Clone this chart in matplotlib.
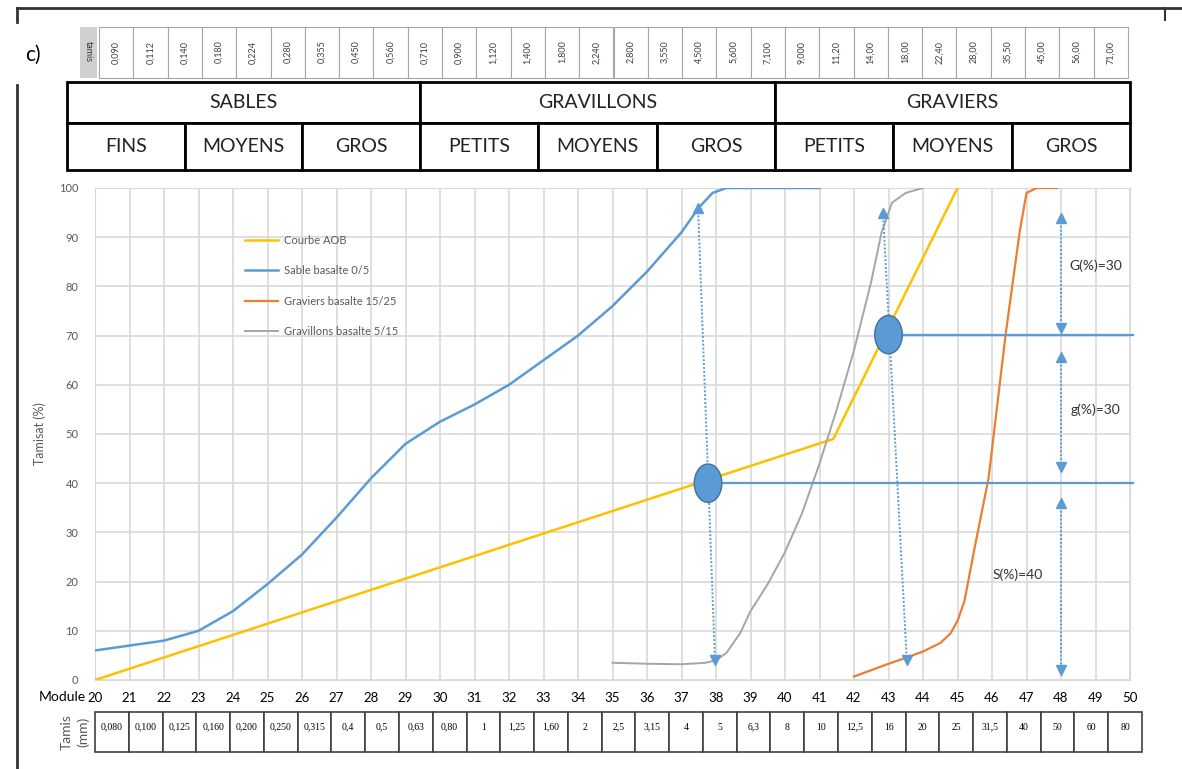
import numpy as np
import matplotlib.pyplot as plt
from matplotlib.patches import Ellipse, Rectangle

plt.rcParams['font.family'] = ['Lato', 'DejaVu Sans']

# --- data ---
module = list(range(20, 51))
tamis_mm = ['0,080', '0,100', '0,125', '0,160', '0,200', '0,250', '0,315', '0,4', '0,5', '0,63',
            '0,80', '1', '1,25', '1,60', '2', '2,5', '3,15', '4', '5', '6,3', '8', '10', '12,5',
            '16', '20', '25', '31,5', '40', '50', '60', '80']
tamis_top = ['0,090', '0,112', '0,140', '0,180', '0,224', '0,280', '0,355', '0,450', '0,560',
             '0,710', '0,900', '1,120', '1,400', '1,800', '2,240', '2,800', '3,550', '4,500',
             '5,600', '7,100', '9,000', '11,20', '14,00', '18,00', '22,40', '28,00', '35,50',
             '45,00', '56,00', '71,00']

aob_x = [20, 41.4, 45]
aob_y = [0, 49, 100]

sable_x = [20, 21, 22, 23, 24, 25, 26, 27, 28, 29, 30, 31, 32, 33, 34, 35, 36, 37, 37.5, 37.9, 38.3, 39, 40, 41]
sable_y = [6, 7, 8, 10, 14, 19.5, 25.5, 33, 41, 48, 52.5, 56, 60, 65, 70, 76, 83, 91, 96, 99, 100, 100, 100, 100]

gravier_x = [42, 42.5, 43, 43.5, 44, 44.5, 44.8, 45.0, 45.2, 45.5, 45.9, 46.4, 46.8, 47.0, 47.3, 47.9]
gravier_y = [0.7, 2, 3.3, 4.5, 5.8, 7.5, 9.5, 12, 16, 27, 41, 70.5, 91, 99, 100, 100]

gravillon_x = [35, 36, 37, 37.7, 38, 38.3, 38.7, 39, 39.5, 40, 40.5, 41, 41.5, 42, 42.5, 42.8, 43.1, 43.5, 44]
gravillon_y = [3.5, 3.3, 3.2, 3.5, 4, 5.5, 9.5, 14, 19.5, 26, 34, 44, 55, 67, 81, 91, 97, 99, 100]

points_x = [37.77, 43.0]
points_y = [40, 70.2]

header1 = ['SABLES', 'GRAVILLONS', 'GRAVIERS']
header2 = ['FINS', 'MOYENS', 'GROS', 'PETITS', 'MOYENS', 'GROS', 'PETITS', 'MOYENS', 'GROS']

W, H = 1182, 769
fig = plt.figure(figsize=(W / 100, H / 100), dpi=100)

# overlay in pixel coordinates for frame and tables
ov = fig.add_axes([0, 0, 1, 1])
ov.set_xlim(0, W)
ov.set_ylim(H, 0)
ov.axis('off')

ax = fig.add_axes([95 / W, 1 - 680 / H, (1130 - 95) / W, (680 - 188) / H])

c_yel = '#FFC000'
c_blue = '#5B9BD5'
c_or = '#ED7D31'
c_gray = '#A5A5A5'

ax.plot(aob_x, aob_y, color=c_yel, lw=1.8, label='Courbe AOB', zorder=3)
ax.plot(sable_x, sable_y, color=c_blue, lw=1.8, label='Sable basalte 0/5', zorder=3)
ax.plot(gravier_x, gravier_y, color=c_or, lw=1.6, label='Graviers basalte 15/25', zorder=3)
ax.plot(gravillon_x, gravillon_y, color=c_gray, lw=1.4, label='Gravillons basalte 5/15', zorder=3)

# horizontal lines from the points
for px, py in zip(points_x, points_y):
    ax.plot([px, 50.1], [py, py], color=c_blue, lw=1.6, zorder=4, clip_on=False)
    ax.add_patch(Ellipse((px, py), 0.8, 7.8, facecolor=c_blue, edgecolor='#41719C', lw=1, zorder=6))

# dotted double arrows
arrows = [((37.48, 96), (37.97, 4)), ((42.84, 95), (43.53, 4)),
          ((48, 94), (48, 71.5)), ((48, 65.6), (48, 43.3)), ((48, 36), (48, 2))]
for (x0, y0), (x1, y1) in arrows:
    ax.plot([x0, x1], [y0, y1], color=c_blue, lw=1.4, ls=(0, (1, 1)), zorder=5)
    ax.plot([x0], [y0], marker='^', color=c_blue, ms=7, zorder=5)
    ax.plot([x1], [y1], marker='v', color=c_blue, ms=7, zorder=5)

ax.text(49.0, 84.3, 'G(%)=30', fontsize=10, color='#333333', ha='center', va='center', zorder=7)
ax.text(49.0, 55, 'g(%)=30', fontsize=10, color='#333333', ha='center', va='center', zorder=7)
ax.text(46.75, 21.3, 'S(%)=40', fontsize=10, color='#333333', ha='center', va='center', zorder=7)

ax.set_xlim(20, 50)
ax.set_ylim(0, 100)
ax.set_xticks(module)
ax.set_xticklabels([str(m) for m in module], fontsize=9.5, color='black')
ax.set_yticks(range(0, 101, 10))
ax.tick_params(axis='y', labelsize=8, colors='#595959', length=0, pad=12)
ax.tick_params(axis='x', length=0, pad=9)
ax.grid(True, color='#d9d9d9', lw=1.2)
ax.set_axisbelow(True)
for s in ax.spines.values():
    s.set_color('#d9d9d9')

leg = ax.legend(loc='upper left', bbox_to_anchor=(0.135, 0.925), frameon=False, fontsize=8,
                handlelength=3.0, labelspacing=1.75, handletextpad=0.5)
for t in leg.get_texts():
    t.set_color('#595959')

ov.text(40, 434, 'Tamisat (%)', rotation=90, fontsize=9, ha='center', va='center', color='#595959')
ov.text(86, 697, 'Module', fontsize=10, ha='right', va='center', color='black')

# frame
ov.plot([17, W], [8, 8], color='#333333', lw=2)
ov.plot([17, 17], [8, 22], color='#333333', lw=2)
ov.plot([17, 17], [85, H], color='#333333', lw=2)
ov.plot([1165, 1165], [8, 20], color='#333333', lw=1.5)
ov.text(33, 55, 'c)', fontsize=15, ha='center', va='center')

# top tamis strip
ov.add_patch(Rectangle((80, 27), 17, 51, facecolor='#d0d0d0', edgecolor='none'))
ov.text(88.5, 52, 'tamis', rotation=270, fontsize=6.5, ha='center', va='center', color='#333333')
tw = (1128 - 99) / len(tamis_top)
for i, lab in enumerate(tamis_top):
    x0 = 99 + i * tw
    ov.add_patch(Rectangle((x0, 27), tw, 51, facecolor='white', edgecolor='#a6a6a6', lw=0.8))
    ov.text(x0 + tw / 2, 52, lab, rotation=90, fontsize=6.5, ha='center', va='center', color='#404040')

# header table
ft = ['Lato', 'DejaVu Sans']
b1 = [67, 420, 775, 1130]
b2 = [67, 185, 302, 420, 538, 657, 775, 893, 1012, 1130]
for i, lab in enumerate(header1):
    ov.add_patch(Rectangle((b1[i], 82), b1[i + 1] - b1[i], 41, facecolor='white', edgecolor='black', lw=2))
    ov.text((b1[i] + b1[i + 1]) / 2, 103, lab, fontsize=14, family=ft, ha='center', va='center', color='#222222')
for i, lab in enumerate(header2):
    ov.add_patch(Rectangle((b2[i], 123), b2[i + 1] - b2[i], 47, facecolor='white', edgecolor='black', lw=2))
    ov.text((b2[i] + b2[i + 1]) / 2, 147, lab, fontsize=14, family=ft, ha='center', va='center', color='#222222')

# bottom tamis table
ov.text(67, 732, 'Tamis', rotation=90, fontsize=10, ha='center', va='center', color='#595959')
ov.text(83, 732, '(mm)', rotation=90, fontsize=10, ha='center', va='center', color='#595959')
bw = (1142 - 95) / len(tamis_mm)
for i, lab in enumerate(tamis_mm):
    x0 = 95 + i * bw
    ov.add_patch(Rectangle((x0, 712), bw, 40, facecolor='white', edgecolor='#404040', lw=1.2))
    ov.text(x0 + bw / 2, 727, lab, fontsize=7, family=['Liberation Serif', 'DejaVu Serif'],
            ha='center', va='center', color='black')

fig.savefig('out.png', dpi=100)
